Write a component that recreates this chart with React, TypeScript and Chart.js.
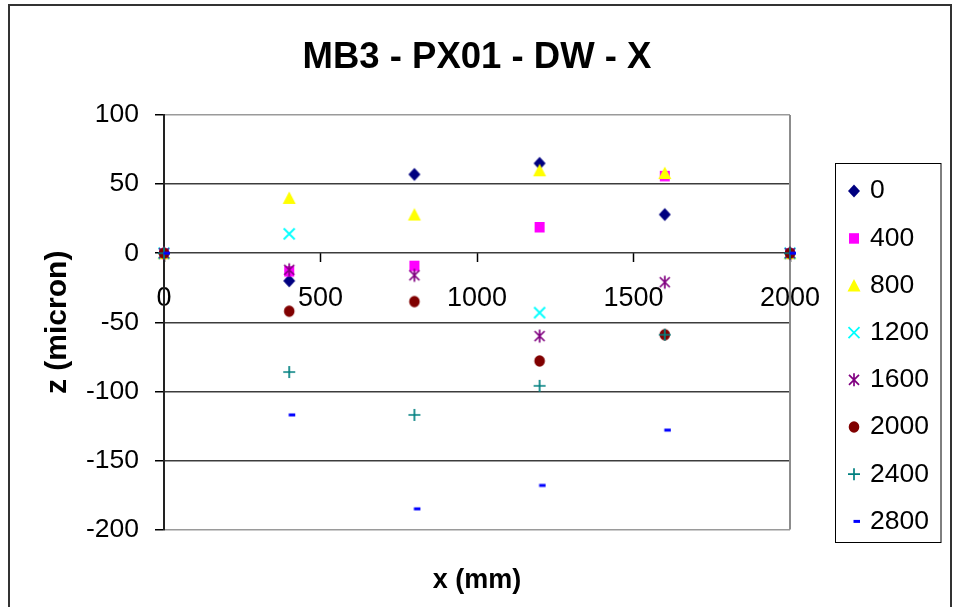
import React, { useEffect, useRef } from 'react';
import { Chart, registerables } from 'chart.js';

Chart.register(...registerables);

const FONT = 'Arial, "Liberation Sans", sans-serif';

const CHART_TITLE = 'MB3 - PX01 - DW - X';
const X_TITLE = 'x (mm)';
const Y_TITLE = 'z (micron)';

// x positions (mm)
const positionsMm = [0, 400, 800, 1200, 1600, 2000];

// series names (legend)
const seriesNames = ['0', '400', '800', '1200', '1600', '2000', '2400', '2800'];

// z values (micron) per series
const z0 = [0, -20, 57, 65, 28, 0];
const z400 = [0, -13, -9, 19, 56, 0];
const z800 = [0, 40, 28, 60, 58, 0];
const z1200 = [0, 14, null, -43, null, 0];
const z1600 = [0, -12, -16, -60, -21, 0];
const z2000 = [0, -42, -35, -78, -59, 0];
const z2400 = [0, -86, -117, -96, -59, 0];
const z2800 = [0, -117, -185, -168, -128, 0];

const seriesValues = [z0, z400, z800, z1200, z1600, z2000, z2400, z2800];

// axis ranges / ticks
const X_MIN = 0;
const X_MAX = 2000;
const X_STEP = 500;
const Y_MIN = -200;
const Y_MAX = 100;
const Y_STEP = 50;

const markerKinds = ['diamond', 'square', 'triangle', 'x', 'star', 'circle', 'plus', 'dash'];
const markerColors = ['#000080', '#FF00FF', '#FFFF00', '#00FFFF', '#800080', '#800000', '#008080', '#0000FF'];

function drawMarker(ctx: CanvasRenderingContext2D, kind: string, color: string, cx: number, cy: number) {
  ctx.save();
  ctx.fillStyle = color;
  ctx.strokeStyle = color;
  ctx.lineCap = 'butt';
  switch (kind) {
    case 'diamond':
      ctx.beginPath();
      ctx.moveTo(cx, cy - 6.5);
      ctx.lineTo(cx + 6, cy);
      ctx.lineTo(cx, cy + 6.5);
      ctx.lineTo(cx - 6, cy);
      ctx.closePath();
      ctx.fill();
      break;
    case 'square':
      ctx.fillRect(cx - 5, cy - 5, 10, 10.5);
      break;
    case 'triangle':
      ctx.beginPath();
      ctx.moveTo(cx, cy - 6.5);
      ctx.lineTo(cx + 6.5, cy + 6);
      ctx.lineTo(cx - 6.5, cy + 6);
      ctx.closePath();
      ctx.fill();
      break;
    case 'x':
      ctx.lineWidth = 1.8;
      ctx.beginPath();
      ctx.moveTo(cx - 5.5, cy - 5.5);
      ctx.lineTo(cx + 5.5, cy + 5.5);
      ctx.moveTo(cx + 5.5, cy - 5.5);
      ctx.lineTo(cx - 5.5, cy + 5.5);
      ctx.stroke();
      break;
    case 'star':
      ctx.lineWidth = 1.7;
      ctx.beginPath();
      ctx.moveTo(cx - 5, cy - 5);
      ctx.lineTo(cx + 5, cy + 5);
      ctx.moveTo(cx + 5, cy - 5);
      ctx.lineTo(cx - 5, cy + 5);
      ctx.moveTo(cx, cy - 6.5);
      ctx.lineTo(cx, cy + 6.5);
      ctx.stroke();
      break;
    case 'circle':
      ctx.beginPath();
      ctx.ellipse(cx, cy, 5.3, 5.8, 0, 0, Math.PI * 2);
      ctx.fill();
      break;
    case 'plus':
      ctx.lineWidth = 1.7;
      ctx.beginPath();
      ctx.moveTo(cx - 6, cy);
      ctx.lineTo(cx + 6, cy);
      ctx.moveTo(cx, cy - 6);
      ctx.lineTo(cx, cy + 6);
      ctx.stroke();
      break;
    case 'dash':
      ctx.fillRect(cx - 0.5, cy - 1.5, 6.5, 3);
      break;
  }
  ctx.restore();
}

function makeMarkerCanvas(kind: string, color: string): HTMLCanvasElement {
  const c = document.createElement('canvas');
  c.width = 20;
  c.height = 20;
  const ctx = c.getContext('2d')!;
  drawMarker(ctx, kind, color, 10, 10);
  return c;
}

const frameLegendPlugin = {
  id: 'frameLegend',
  beforeDatasetsDraw(chart: any) {
    const { ctx, chartArea } = chart;
    ctx.save();
    ctx.strokeStyle = '#8c8c8c';
    ctx.lineWidth = 2;
    ctx.beginPath();
    ctx.moveTo(chartArea.right, chartArea.top);
    ctx.lineTo(chartArea.right, chartArea.bottom);
    ctx.stroke();
    ctx.restore();
  },
  afterDraw(chart: any) {
    const { ctx } = chart;
    ctx.save();
    // outer frame
    ctx.strokeStyle = '#333';
    ctx.lineWidth = 2;
    ctx.beginPath();
    ctx.moveTo(9, 607);
    ctx.lineTo(9, 5);
    ctx.lineTo(951, 5);
    ctx.lineTo(951, 607);
    ctx.stroke();
    // legend box
    ctx.strokeStyle = '#000';
    ctx.lineWidth = 1;
    ctx.strokeRect(835.5, 163.5, 105.5, 379);
    ctx.font = `26.5px ${FONT}`;
    ctx.fillStyle = '#000';
    ctx.textBaseline = 'middle';
    ctx.textAlign = 'left';
    seriesNames.forEach((name, i) => {
      const yc = 191 + i * 47.2;
      drawMarker(ctx, markerKinds[i], markerColors[i], 854, yc);
      ctx.fillText(name, 870, yc);
    });
    ctx.restore();
  },
};

export default function App() {
  const canvasRef = useRef<HTMLCanvasElement | null>(null);

  useEffect(() => {
    const canvas = canvasRef.current;
    if (!canvas) return;
    const datasets = seriesNames.map((name, i) => ({
      label: name,
      data: positionsMm.map((x, j) => ({ x, y: seriesValues[i][j] })),
      pointStyle: makeMarkerCanvas(markerKinds[i], markerColors[i]) as any,
      pointRadius: 6,
      showLine: false,
      clip: false as any,
      order: seriesNames.length - 1 - i,
    }));
    const chart = new Chart(canvas, {
      type: 'scatter',
      data: { datasets },
      options: {
        animation: false,
        responsive: false,
        devicePixelRatio: 1,
        layout: { padding: { left: 0, right: 167, top: 0, bottom: 0 } },
        plugins: {
          legend: { display: false },
          tooltip: { enabled: false },
          title: {
            display: true,
            text: CHART_TITLE,
            fullSize: false,
            color: '#000',
            font: { size: 36.5, weight: 'bold', family: FONT },
            padding: { top: 36, bottom: 35.2 },
          },
          subtitle: {
            display: true,
            text: X_TITLE,
            position: 'bottom',
            fullSize: false,
            color: '#000',
            font: { size: 27, weight: 'bold', family: FONT },
            padding: { top: 35, bottom: 10 },
          },
        },
        scales: {
          x: {
            type: 'linear',
            position: { y: 0 } as any,
            min: X_MIN,
            max: X_MAX,
            ticks: {
              stepSize: X_STEP,
              autoSkip: false,
              maxRotation: 0,
              color: '#000',
              padding: 20,
              font: { size: 27, family: FONT },
              callback: (v: any) => String(v),
            },
            grid: {
              drawOnChartArea: false,
              drawTicks: true,
              tickLength: 9,
              tickColor: '#000',
              tickWidth: 1.5,
            },
            border: { display: false },
          },
          y: {
            type: 'linear',
            min: Y_MIN,
            max: Y_MAX,
            ticks: {
              stepSize: Y_STEP,
              color: '#000',
              padding: 16,
              font: { size: 26.5, family: FONT },
              callback: (v: any) => String(v),
            },
            grid: {
              color: (c: any) =>
                c.tick && (c.tick.value === Y_MAX || c.tick.value === Y_MIN) ? '#9a9a9a' : '#3c3c3c',
              lineWidth: 1.5,
              tickLength: 9,
              tickColor: '#000',
              tickWidth: 1.5,
            },
            border: { display: true, color: '#222', width: 2 },
            title: {
              display: true,
              text: Y_TITLE,
              color: '#000',
              font: { size: 30, weight: 'bold', family: FONT },
              padding: { top: 40, bottom: 0 },
            },
            afterFit: (s: any) => {
              s.width = 164;
            },
          },
        },
      },
      plugins: [frameLegendPlugin],
    });
    return () => chart.destroy();
  }, []);

  return (
    <div style={{ position: 'fixed', left: 0, top: 0, width: 957, height: 607, background: '#fff' }}>
      <canvas ref={canvasRef} width={957} height={607} />
    </div>
  );
}
